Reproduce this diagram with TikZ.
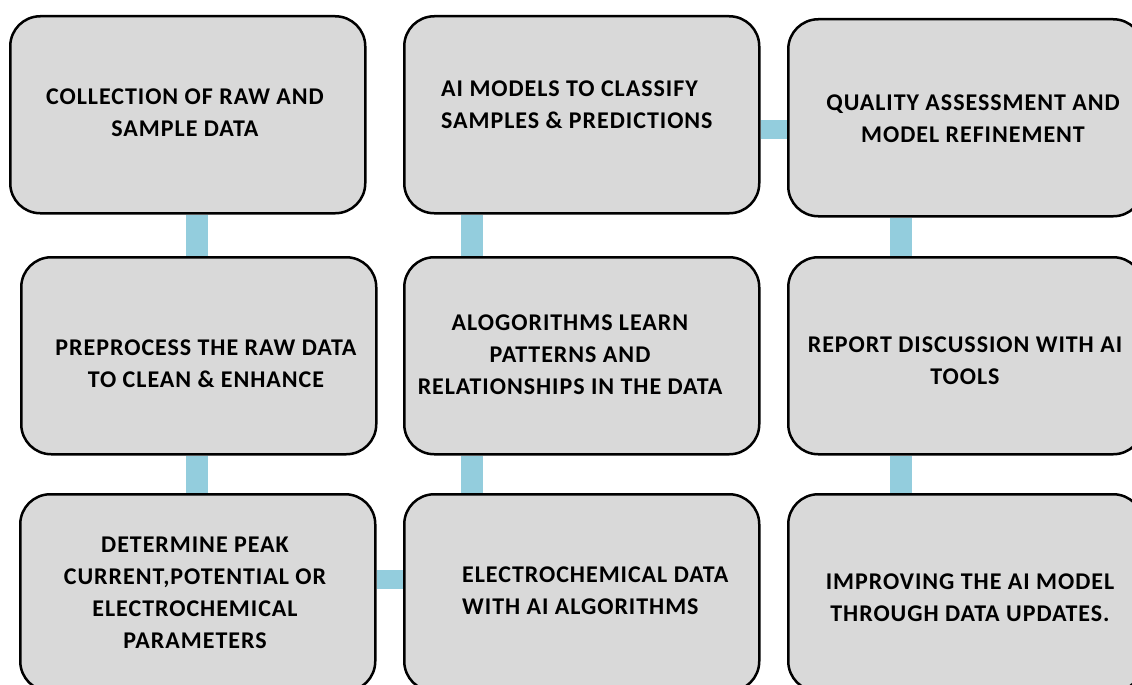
\documentclass[tikz,border=0pt]{standalone}
\usepackage{fontspec}
\setmainfont{Carlito}[LetterSpace=4]
\usetikzlibrary{backgrounds}
\definecolor{barblue}{HTML}{93CDDD}
\definecolor{boxgray}{HTML}{D9D9D9}
\begin{document}
\begin{tikzpicture}[x=1pt,y=-1pt,
 box/.style={draw=black, line width=2.5pt, fill=boxgray, rounded corners=30pt, anchor=north west, minimum width=355pt, minimum height=197pt, inner sep=0pt},
 txt/.style={font={\bfseries\fontsize{24}{32}\selectfont}, inner sep=0pt, align=center},
 txtl/.style={txt, align=left, anchor=west},
 vbar/.style={draw=barblue, line width=22pt},
 hbar/.style={draw=barblue, line width=19pt}]
\useasboundingbox (0,0) rectangle (1132,685);
\clip (0,0) rectangle (1132,685);
% boxes
\node[box] (b1) at (9,15) {};
\node[box] (b2) at (403,15) {};
\node[box] (b3) at (787,18) {};
\node[box] (b4) at (20,256) {};
\node[box] (b5) at (403,256) {};
\node[box] (b6) at (787,256) {};
\node[box] (b7) at (19,493) {};
\node[box] (b8) at (403,493) {};
\node[box] (b9) at (787,493) {};
% texts
\node[txt] (t1) at (185,113) {COLLECTION OF RAW AND\\SAMPLE DATA};
\node[txtl] (t2) at (441,105) {AI MODELS TO CLASSIFY\\SAMPLES \& PREDICTIONS};
\node[txt] (t3) at (973,119) {QUALITY ASSESSMENT AND\\MODEL REFINEMENT};
\node[txt] (t4) at (206,364) {PREPROCESS THE RAW DATA\\TO CLEAN \& ENHANCE};
\node[txt] (t5) at (570,355) {ALOGORITHMS LEARN\\PATTERNS AND\\RELATIONSHIPS IN THE DATA};
\node[txt] (t6) at (965,361) {REPORT DISCUSSION WITH AI\\TOOLS};
\node[txt] (t7) at (195,593) {DETERMINE PEAK\\CURRENT,POTENTIAL OR\\ELECTROCHEMICAL\\PARAMETERS};
\node[txtl] (t8) at (462,591) {ELECTROCHEMICAL DATA\\WITH AI ALGORITHMS};
\node[txt] (t9) at (970,598) {IMPROVING THE AI MODEL\\THROUGH DATA UPDATES.};
% connectors
\begin{scope}[on background layer]
\draw[vbar] ([xshift=188pt]b1.south west) -- ([xshift=177pt]b4.north west);
\draw[vbar] ([xshift=177pt]b4.south west) -- ([xshift=178pt]b7.north west);
\draw[hbar] ([yshift=13.5pt]b7.east) -- ([yshift=13.5pt]b7.east -| b8.west);
\draw[vbar] ([xshift=69pt]b8.north west) -- ([xshift=69pt]b5.south west);
\draw[vbar] ([xshift=69pt]b5.north west) -- ([xshift=69pt]b2.south west);
\draw[hbar] ([yshift=-15pt]b2.east) -- ([yshift=-15pt]b2.east -| b3.west);
\draw[vbar] ([xshift=114pt]b3.south west) -- ([xshift=114pt]b6.north west);
\draw[vbar] ([xshift=114pt]b6.south west) -- ([xshift=114pt]b9.north west);
\end{scope}
\end{tikzpicture}
\end{document}
